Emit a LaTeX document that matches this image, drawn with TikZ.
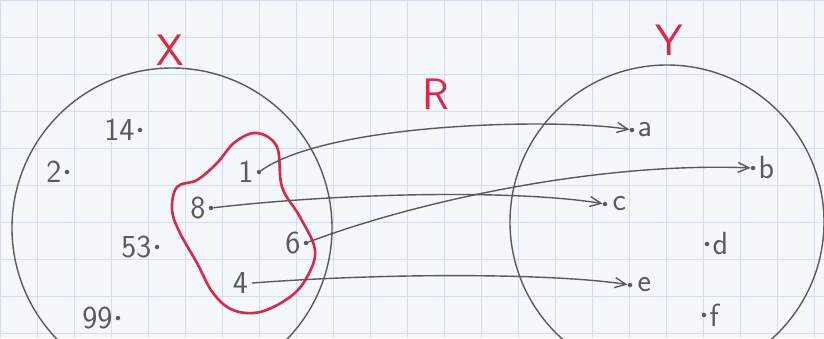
\documentclass[tikz,border=0pt]{standalone}
\usepackage{tikz}
\usetikzlibrary{arrows.meta,positioning}
\definecolor{pencil}{HTML}{5A5A5A}
\definecolor{marker}{HTML}{DC2846}
\definecolor{paper}{HTML}{F4F7FB}
\definecolor{gridblue}{HTML}{D5DEEA}

\begin{document}
\begin{tikzpicture}[
  x=1pt, y=-1pt,
  dot/.style={circle, fill=pencil, inner sep=0pt, minimum size=4.5pt},
  elem/.style={font=\sffamily\fontsize{32}{36}\selectfont, text=pencil, inner sep=2pt},
  setname/.style={font=\sffamily\fontsize{44}{48}\selectfont, text=marker},
  maps/.style={-{Straight Barb[length=11pt,width=10pt]}, pencil, line width=1.4pt}
]
  \useasboundingbox (0,0) rectangle (824,338);
  \clip (0,0) rectangle (824,338);
  \fill[paper] (0,0) rectangle (824,338);
  \draw[gridblue, thin] (0,0) grid[step=37pt] (824,338);

  % the two sets
  \draw[pencil, line width=1.4pt] (172,228) circle[radius=160];
  \draw[pencil, line width=1.4pt] (667,222) circle[radius=157];
  \node[setname] (X) at (170,50) {X};
  \node[setname] (Y) at (669,40) {Y};
  \node[setname] (R) at (436,94) {R};

  % elements of X
  \node[dot] (p14) at (140,130) {};
  \node[elem, left=1pt of p14] {14};
  \node[dot] (p2) at (67,172) {};
  \node[elem, left=1pt of p2] {2};
  \node[dot] (p53) at (157,247) {};
  \node[elem, left=1pt of p53] {53};
  \node[dot] (p99) at (118,318) {};
  \node[elem, left=1pt of p99] {99};
  \node[dot] (p1) at (259,172) {};
  \node[elem, left=1pt of p1] {1};
  \node[dot] (p8) at (211,208) {};
  \node[elem, left=1pt of p8] {8};
  \node[dot] (p6) at (306,243) {};
  \node[elem, left=1pt of p6] {6};
  \coordinate (p4) at (252,283);
  \node[elem, left=2pt of p4] {4};

  % elements of Y
  \node[dot] (pa) at (632,130) {};
  \node[elem, right=1pt of pa] {a};
  \node[dot] (pb) at (753,168) {};
  \node[elem, right=1pt of pb] {b};
  \node[dot] (pc) at (605,204) {};
  \node[elem, right=3pt of pc] {c};
  \node[dot] (pd) at (707,244) {};
  \node[elem, right=1pt of pd] {d};
  \node[dot] (pe) at (630,285) {};
  \node[elem, right=3pt of pe] {e};
  \node[dot] (pf) at (704,315) {};
  \node[elem, right=1pt of pf] {f};

  % domain of R
  \draw[marker, line width=2.6pt] plot[smooth cycle, tension=0.6] coordinates {
    (257,133) (277,147) (282,187) (300,217) (315,250) (307,277) (290,297)
    (260,312) (233,310) (213,293) (197,263) (180,233) (172,210) (177,187)
    (197,180) (217,163) (235,142)};

  % pairs of R
  \draw[maps] (p1) .. controls (330,122) and (560,118) .. (pa);
  \draw[maps] (p8) .. controls (350,192) and (520,190) .. (pc);
  \draw[maps] (p6) .. controls (420,200) and (600,162) .. (pb);
  \draw[maps] (p4) .. controls (400,272) and (560,274) .. (pe);
\end{tikzpicture}
\end{document}
